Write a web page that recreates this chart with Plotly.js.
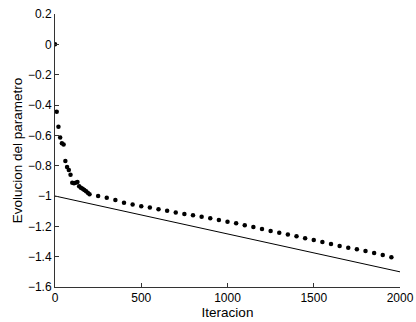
<!DOCTYPE html>
<html>
<head>
<meta charset="utf-8">
<script src="https://cdn.plot.ly/plotly-3.0.1.min.js"></script>
<style>
html,body{margin:0;padding:0;background:#fff;}
#chart{width:416px;height:322px;}
</style>
</head>
<body>
<div id="chart"></div>
<script>
// Iterations at which the parameter was sampled
var iteracion = [0,10,20,30,40,50,60,70,80,90,100,110,120,130,140,150,160,170,180,190,200,
  250,300,350,400,450,500,550,600,650,700,750,800,850,900,950,1000,1050,1100,1150,1200,
  1250,1300,1350,1400,1450,1500,1550,1600,1650,1700,1750,1800,1850,1900,1950];
// Parameter evolution (dots)
var parametro = [0,-0.444,-0.543,-0.614,-0.653,-0.661,-0.77,-0.808,-0.829,-0.86,-0.912,-0.916,-0.912,-0.908,-0.936,-0.946,-0.953,-0.961,-0.968,-0.978,-0.988,
  -1.000,-1.012,-1.026,-1.044,-1.056,-1.067,-1.075,-1.087,-1.098,-1.109,-1.119,-1.127,-1.136,-1.147,-1.158,-1.170,-1.180,-1.193,-1.205,-1.218,
  -1.230,-1.242,-1.254,-1.266,-1.279,-1.290,-1.303,-1.316,-1.329,-1.342,-1.351,-1.363,-1.376,-1.389,-1.404];
// Reference line
var refX = [0, 2000];
var refY = [-1, -1.5];

var fontFam = 'Liberation Sans, Arial, Helvetica, sans-serif';

var traces = [
  {x: refX, y: refY, type: 'scatter', mode: 'lines',
   line: {color: '#000', width: 1}, hoverinfo: 'skip'},
  {x: iteracion, y: parametro, type: 'scatter', mode: 'markers',
   marker: {color: '#000', size: 4.5, line: {width: 0}}}
];

var layout = {
  width: 416, height: 322,
  margin: {l: 55, r: 16, t: 14, b: 35},
  paper_bgcolor: '#fff', plot_bgcolor: '#fff',
  showlegend: false,
  font: {family: fontFam, size: 12, color: '#000'},
  xaxis: {
    range: [0, 2000], tickvals: [0,500,1000,1500,2000],
    ticktext: ['0','500','1000','1500','2000'],
    showgrid: false, zeroline: false, showline: true, linecolor: '#333', linewidth: 1,
    ticks: 'inside', ticklen: 4, tickcolor: '#333', tickwidth: 1,
    tickfont: {family: fontFam, size: 12, color: '#000'},
    title: {text: 'Iteracion', font: {family: fontFam, size: 13.5, color: '#000'}, standoff: 2}
  },
  yaxis: {
    range: [-1.6, 0.2], tickvals: [0.2,0,-0.2,-0.4,-0.6,-0.8,-1,-1.2,-1.4,-1.6],
    showgrid: false, zeroline: false, showline: true, linecolor: '#333', linewidth: 1,
    ticks: 'inside', ticklen: 4, tickcolor: '#333', tickwidth: 1,
    tickfont: {family: fontFam, size: 12, color: '#000'},
    title: {text: 'Evolucion del parametro', font: {family: fontFam, size: 13.5, color: '#000'}, standoff: 2}
  }
};

Plotly.newPlot('chart', traces, layout, {displayModeBar: false, staticPlot: true});
</script>
</body>
</html>
